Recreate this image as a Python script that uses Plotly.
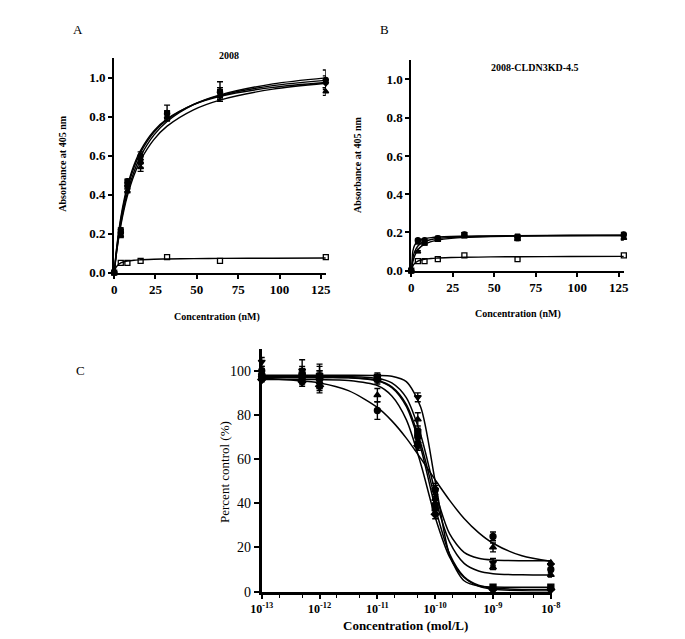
import plotly.graph_objects as go

W, H = 685, 639
FONT = "Liberation Serif"

# ---------------- Panel A / B data ----------------
CONC_NM = [0, 4, 8, 16, 32, 64, 128]
A_S1 = [0, 0.22, 0.47, 0.60, 0.82, 0.93, 0.99]
A_S1_ERR = [0, 0.01, 0.01, 0.02, 0.04, 0.05, 0.05]
A_S2 = [0, 0.21, 0.45, 0.58, 0.81, 0.92, 0.98]
A_S2_ERR = [0, 0.01, 0.01, 0.02, 0.02, 0.03, 0.03]
A_S3 = [0, 0.19, 0.42, 0.54, 0.80, 0.91, 0.93]
A_S3_ERR = [0, 0.01, 0.01, 0.02, 0.02, 0.02, 0.02]
A_S4 = [0, 0.20, 0.44, 0.56, 0.81, 0.92, 0.97]
A_S4_ERR = [0, 0.01, 0.01, 0.02, 0.02, 0.02, 0.02]
A_BG = [0, 0.05, 0.05, 0.06, 0.08, 0.06, 0.08]

B_S1 = [0, 0.16, 0.16, 0.17, 0.19, 0.17, 0.19]
B_S2 = [0, 0.15, 0.15, 0.17, 0.19, 0.18, 0.18]
B_S3 = [0, 0.10, 0.14, 0.16, 0.18, 0.165, 0.17]
B_ERR = [0, 0.005, 0.005, 0.005, 0.008, 0.008, 0.01]
B_BG = [0, 0.05, 0.05, 0.06, 0.08, 0.06, 0.08]

FIT_X_NM = [0, 1, 2, 4, 6, 8, 12, 16, 24, 32, 48, 64, 96, 128]
A_FIT1 = [0, 0.076, 0.142, 0.251, 0.339, 0.410, 0.518, 0.598, 0.706, 0.776, 0.862, 0.912, 0.969, 1.000]
A_FIT2 = [0, 0.083, 0.154, 0.270, 0.360, 0.432, 0.540, 0.617, 0.720, 0.785, 0.864, 0.909, 0.960, 0.987]
A_FIT3 = [0, 0.088, 0.163, 0.283, 0.374, 0.446, 0.553, 0.628, 0.727, 0.789, 0.862, 0.905, 0.951, 0.976]
A_FIT4 = [0, 0.072, 0.136, 0.241, 0.325, 0.394, 0.500, 0.577, 0.683, 0.752, 0.836, 0.886, 0.942, 0.972]
BG_FIT = [0, 0.025, 0.037, 0.050, 0.056, 0.060, 0.064, 0.066, 0.069, 0.070, 0.072, 0.073, 0.074, 0.075]
B_FIT1 = [0, 0.103, 0.132, 0.154, 0.163, 0.168, 0.173, 0.176, 0.179, 0.180, 0.182, 0.183, 0.184, 0.184]
B_FIT2 = [0, 0.048, 0.076, 0.109, 0.127, 0.138, 0.152, 0.160, 0.169, 0.174, 0.179, 0.181, 0.184, 0.186]
B_FIT3 = [0, 0.067, 0.098, 0.129, 0.144, 0.153, 0.163, 0.168, 0.174, 0.177, 0.180, 0.182, 0.184, 0.184]

# ---------------- Panel C data ----------------
CONC_MOL = [1e-13, 5e-13, 1e-12, 1e-11, 5e-11, 1e-10, 1e-9, 1e-8]
C_CIRCLE = [100, 97, 96, 82, 70, 46, 25, 10]
C_CIRCLE_ERR = [2, 3, 4, 4, 3, 3, 2, 2]
C_TRIUP = [99, 98, 95, 89, 78, 42, 20, 7.6]
C_TRIUP_ERR = [2, 3, 4, 3, 3, 2, 2, 1]
C_TRIDOWN = [104, 100, 98, 97, 88, 46, 13, 12]
C_TRIDOWN_ERR = [2, 5, 5, 2, 2, 2, 2, 2]
C_TRIUP2 = [98, 99, 97, 96, 68, 40, 11, 13]
C_TRIUP2_ERR = [2, 3, 5, 2, 2, 2, 1, 1]
C_SQUARE = [97, 98, 97, 97, 72, 38, 2, 2]
C_SQUARE_ERR = [1, 2, 3, 1, 2, 2, 1, 1]
C_DIAMOND = [96, 95, 93, 96, 66, 35, 1, 1]
C_DIAMOND_ERR = [1, 2, 3, 1, 2, 2, 1, 1]

C_FIT_LOGX = [-13, -12, -11.5, -11, -10.75, -10.5, -10.25, -10, -9.75, -9.5, -9.25, -9, -8.5, -8]
C_FIT_SHALLOW = [96.6, 94.5, 91.0, 83.4, 77.3, 69.5, 60.3, 50.6, 41.3, 33.1, 26.7, 21.9, 16.2, 13.7]
C_FIT_1 = [97.5, 97.5, 97.4, 96.6, 94.5, 87.8, 70.9, 45.4, 26.1, 17.8, 15.1, 14.3, 14.0, 14.0]
C_FIT_2 = [97.0, 97.0, 96.9, 95.6, 92.7, 84.8, 67.1, 42.1, 22.4, 12.8, 9.3, 8.1, 7.6, 7.5]
C_FIT_3 = [98.0, 98.0, 98.0, 97.9, 97.5, 95.1, 83.5, 50.0, 16.5, 4.9, 2.5, 2.1, 2.0, 2.0]
C_FIT_4 = [97.0, 97.0, 96.8, 95.5, 92.4, 83.9, 65.0, 38.1, 17.0, 6.7, 2.9, 1.6, 1.0, 1.0]
C_FIT_5 = [96.0, 96.0, 95.6, 93.3, 88.6, 77.9, 57.9, 33.7, 15.6, 6.4, 2.5, 1.1, 0.4, 0.3]

A_YTICKS = [0, 0.2, 0.4, 0.6, 0.8, 1.0]
A_XTICKS = [0, 25, 50, 75, 100, 125]
C_YTICKS = [0, 20, 40, 60, 80, 100]
C_XTICK_EXP = [-13, -12, -11, -10, -9, -8]


def fx(x):
    return x / W


def fy(y):
    return 1 - y / H


fig = go.Figure()


def curve(xs, ys, xa, ya, width=1.4):
    fig.add_trace(go.Scatter(x=xs, y=ys, xaxis=xa, yaxis=ya, mode="lines",
                             line=dict(color="black", width=width, shape="spline", smoothing=0.8),
                             hoverinfo="skip", showlegend=False))


def points(xs, ys, xa, ya, symbol, size=5, err=None):
    fig.add_trace(go.Scatter(
        x=xs, y=ys, xaxis=xa, yaxis=ya, mode="markers",
        marker=dict(symbol=symbol, size=size, color="black",
                    line=dict(color="black", width=1.3)),
        error_y=dict(type="data", array=err, color="black", thickness=1.4, width=3,
                     visible=err is not None),
        cliponaxis=False, showlegend=False))


# Panel A
for f in (A_FIT1, A_FIT2, A_FIT3, A_FIT4, BG_FIT):
    curve(FIT_X_NM, f, "x", "y")
points(CONC_NM, A_S1, "x", "y", "circle", 5, A_S1_ERR)
points(CONC_NM, A_S2, "x", "y", "square", 4, A_S2_ERR)
points(CONC_NM, A_S3, "x", "y", "triangle-up", 5, A_S3_ERR)
points(CONC_NM, A_S4, "x", "y", "triangle-down", 5, A_S4_ERR)
points(CONC_NM, A_BG, "x", "y", "square-open", 5)

# Panel B
for f in (B_FIT1, B_FIT2, B_FIT3, BG_FIT):
    curve(FIT_X_NM, f, "x2", "y2")
points(CONC_NM, B_S1, "x2", "y2", "circle", 5, B_ERR)
points(CONC_NM, B_S2, "x2", "y2", "square", 4, B_ERR)
points(CONC_NM, B_S3, "x2", "y2", "triangle-up", 5, B_ERR)
points(CONC_NM, B_BG, "x2", "y2", "square-open", 5)

# Panel C
c_fit_x = [10 ** v for v in C_FIT_LOGX]
for f in (C_FIT_SHALLOW, C_FIT_1, C_FIT_2, C_FIT_3, C_FIT_4, C_FIT_5):
    curve(c_fit_x, f, "x3", "y3", 1.5)
points(CONC_MOL, C_CIRCLE, "x3", "y3", "circle", 6, C_CIRCLE_ERR)
points(CONC_MOL, C_TRIUP, "x3", "y3", "triangle-up", 6, C_TRIUP_ERR)
points(CONC_MOL, C_TRIDOWN, "x3", "y3", "triangle-down", 6, C_TRIDOWN_ERR)
points(CONC_MOL, C_TRIUP2, "x3", "y3", "triangle-up", 6, C_TRIUP2_ERR)
points(CONC_MOL, C_SQUARE, "x3", "y3", "square", 6, C_SQUARE_ERR)
points(CONC_MOL, C_DIAMOND, "x3", "y3", "diamond", 6, C_DIAMOND_ERR)

bold_tick = dict(family=FONT, size=13, color="black", weight="bold")
ab_axis = dict(showline=True, linecolor="black", linewidth=2, ticks="outside", ticklen=4,
               tickwidth=2, tickcolor="black", showgrid=False, zeroline=False,
               tickfont=bold_tick, fixedrange=True)

fig.update_layout(
    width=W, height=H, autosize=False,
    margin=dict(l=0, r=0, t=0, b=0),
    paper_bgcolor="white", plot_bgcolor="white",
    showlegend=False,
    xaxis=dict(ab_axis, domain=[fx(97), fx(315)], range=[0, 128], anchor="y",
               tickvals=A_XTICKS, ticktext=[str(v) for v in A_XTICKS]),
    yaxis=dict(ab_axis, domain=[fy(268), fy(51)], range=[0, 1.1], anchor="x",
               tickvals=A_YTICKS, ticktext=["%.1f" % v for v in A_YTICKS]),
    xaxis2=dict(ab_axis, domain=[fx(403), fx(622)], range=[0, 128], anchor="y2",
                tickvals=A_XTICKS, ticktext=[str(v) for v in A_XTICKS]),
    yaxis2=dict(ab_axis, domain=[fy(266), fy(53)], range=[0, 1.1], anchor="x2",
                tickvals=A_YTICKS, ticktext=["%.1f" % v for v in A_YTICKS]),
    xaxis3=dict(type="log", domain=[fx(249), fx(548)], range=[-13, -7.98], anchor="y3",
                showline=True, linecolor="black", linewidth=3, ticks="outside", ticklen=4,
                tickwidth=2, tickcolor="black", showgrid=False, zeroline=False,
                tickvals=[10 ** e for e in C_XTICK_EXP],
                ticktext=["10<sup>%d</sup>" % e for e in C_XTICK_EXP],
                tickfont=dict(family=FONT, size=12, color="black", weight="bold"),
                minor=dict(ticks="outside", ticklen=3, tickwidth=1.2, tickcolor="black", showgrid=False),
                fixedrange=True),
    yaxis3=dict(domain=[fy(591), fy(345)], range=[0, 110], anchor="x3",
                showline=True, linecolor="black", linewidth=3, ticks="outside", ticklen=5,
                tickwidth=2, tickcolor="black", showgrid=False, zeroline=False,
                tickvals=C_YTICKS, ticktext=[str(v) for v in C_YTICKS],
                tickfont=dict(family=FONT, size=14, color="black"),
                fixedrange=True),
)


def note(text, x, y, size=10, bold=True, angle=0):
    fig.add_annotation(text=text, xref="paper", yref="paper", x=fx(x), y=fy(y),
                       xanchor="center", yanchor="middle", showarrow=False, textangle=angle,
                       font=dict(family=FONT, size=size, color="black",
                                 weight="bold" if bold else "normal"))


note("A", 60, 22, 13, False)
note("B", 375, 22, 13, False)
note("C", 62, 367, 13, False)
note("2008", 215, 48, 10)
note("2008-CLDN3KD-4.5", 530, 60, 10)
note("Absorbance at 405 nm", 43, 157, 10, True, -90)
note("Absorbance at 405 nm", 347, 158, 10, True, -90)
note("Concentration (nM)", 203, 313, 10)
note("Concentration (nM)", 513, 310, 10)
note("Percent control (%)", 210, 470, 13, False, -90)
note("Concentration (mol/L)", 397, 625, 13)

fig.write_html("out.html")
